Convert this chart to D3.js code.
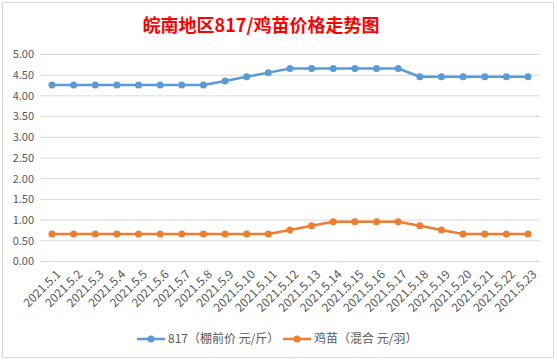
<!DOCTYPE html>
<html>
<head>
  <meta charset='utf-8'>
  <title>皖南地区817/鸡苗价格走势图</title>
  <style type='text/css'>
body{
  margin:0;
  background:#fff;
}
svg text{
  font-family: 'Noto Sans CJK SC', 'Open Sans', sans-serif;
}
  </style>
</head>
<body>
<div id='chart'></div>
<script src='https://d3js.org/d3.v7.min.js'></script>
<script type='text/javascript'>

// data
var dates = ['2021.5.1','2021.5.2','2021.5.3','2021.5.4','2021.5.5','2021.5.6','2021.5.7','2021.5.8',
             '2021.5.9','2021.5.10','2021.5.11','2021.5.12','2021.5.13','2021.5.14','2021.5.15',
             '2021.5.16','2021.5.17','2021.5.18','2021.5.19','2021.5.20','2021.5.21','2021.5.22','2021.5.23'];
var price817 = [4.25,4.25,4.25,4.25,4.25,4.25,4.25,4.25,4.35,4.45,4.55,4.65,4.65,4.65,4.65,4.65,4.65,
                4.45,4.45,4.45,4.45,4.45,4.45];
var priceChick = [0.65,0.65,0.65,0.65,0.65,0.65,0.65,0.65,0.65,0.65,0.65,0.75,0.85,0.95,0.95,0.95,0.95,
                  0.85,0.75,0.65,0.65,0.65,0.65];
var yTicks = [0,0.5,1,1.5,2,2.5,3,3.5,4,4.5,5];
var seriesNames = ['817（棚前价 元/斤）','鸡苗（混合 元/羽）'];
var colors = ['#5b9bd5','#ed7d31'];

var W = 557, H = 361;
var svg = d3.select('#chart').append('svg')
    .attr('width', W)
    .attr('height', H);

// chart border
svg.append('rect')
  .attr('x', 2.5).attr('y', 2.5)
  .attr('width', 551).attr('height', 355)
  .attr('fill', '#fff')
  .attr('stroke', '#d9d9d9');

// title
svg.append('text')
  .attr('x', 261)
  .attr('y', 32)
  .attr('text-anchor', 'middle')
  .style('font-size', '18px')
  .style('font-weight', 'bold')
  .style('fill', '#ff0000')
  .text('皖南地区817/鸡苗价格走势图');

var x = d3.scalePoint().domain(dates).range([52, 528]);
var y = d3.scaleLinear().domain([0, 5]).range([261, 54]);

// gridlines + y labels
var yAxis = svg.append('g')
  .attr('transform', 'translate(40,0)')
  .call(d3.axisRight(y).tickValues(yTicks).tickSize(500).tickFormat(d3.format('.2f')));
yAxis.select('.domain').remove();
yAxis.selectAll('.tick line').attr('stroke', '#d9d9d9');
yAxis.selectAll('.tick text')
  .attr('x', -6)
  .attr('dy', '0.35em')
  .attr('text-anchor', 'end')
  .style('font-size', '11px')
  .style('fill', '#595959');

// x labels, rotated
var xAxis = svg.append('g')
  .attr('transform', 'translate(0,261)')
  .call(d3.axisBottom(x).tickSize(0));
xAxis.select('.domain').remove();
xAxis.selectAll('.tick text')
  .attr('text-anchor', 'end')
  .attr('transform', 'translate(6,11) rotate(-45)')
  .attr('dy', '0.35em')
  .attr('y', 0)
  .style('font-size', '12px')
  .style('fill', '#595959');

// lines
var allSeries = [price817, priceChick];
var line = d3.line()
  .x(function(d, i){ return x(dates[i]); })
  .y(function(d){ return y(d); });

allSeries.forEach(function(vals, k){
  svg.append('path')
    .datum(vals)
    .attr('d', line)
    .attr('fill', 'none')
    .attr('stroke', colors[k])
    .attr('stroke-width', 2.5)
    .attr('stroke-linejoin', 'round');
  svg.selectAll('.dot' + k)
    .data(vals)
    .enter()
    .append('circle')
      .attr('cx', function(d, i){ return x(dates[i]); })
      .attr('cy', function(d){ return y(d); })
      .attr('r', 3.5)
      .attr('fill', colors[k]);
});

// legend
var legX = [137, 283];
seriesNames.forEach(function(name, k){
  var g = svg.append('g').attr('transform', 'translate(' + legX[k] + ',339)');
  g.append('line')
    .attr('x1', 0).attr('x2', 28)
    .attr('stroke', colors[k])
    .attr('stroke-width', 2.5);
  g.append('circle')
    .attr('cx', 14).attr('r', 3.5)
    .attr('fill', colors[k]);
  g.append('text')
    .attr('x', 31)
    .attr('dy', '0.35em')
    .style('font-size', '12px')
    .style('fill', '#595959')
    .text(name);
});

</script>
</body>
</html>
